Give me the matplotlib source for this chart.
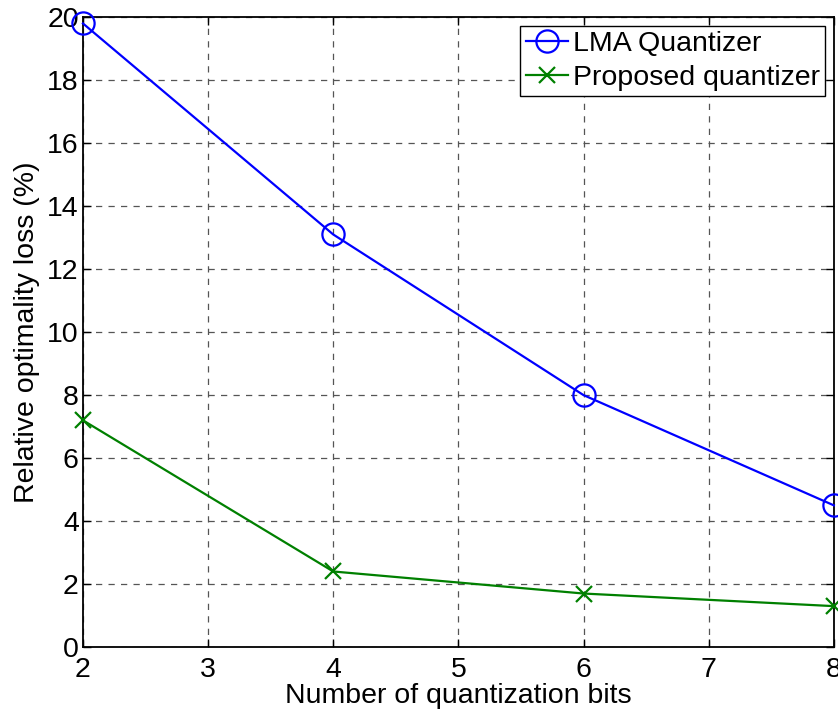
import matplotlib
matplotlib.use("Agg")
import matplotlib.pyplot as plt

bits = [2, 4, 6, 8]
lma_loss = [19.8, 13.1, 8.0, 4.5]
proposed_loss = [7.2, 2.4, 1.7, 1.3]

plt.rcParams["font.family"] = ["Liberation Sans", "DejaVu Sans"]
FS = 20.5

fig = plt.figure(figsize=(8.38, 7.15), dpi=100)
ax = fig.add_axes([0.099, 0.095, 0.896, 0.881])

ax.plot(bits, lma_loss, color="#0000ff", linewidth=1.6, marker="o", markersize=16,
        markerfacecolor="none", markeredgewidth=1.6, label="LMA Quantizer", clip_on=False, zorder=3)
ax.plot(bits, proposed_loss, color="#008000", linewidth=1.6, marker="x", markersize=11,
        markeredgewidth=1.6, label="Proposed quantizer", clip_on=False, zorder=3)

ax.set_xlim(2, 8)
ax.set_ylim(0, 20)
ax.set_xticks(range(2, 9))
ax.set_yticks(range(0, 21, 2))
ax.tick_params(direction="in", top=True, right=True, labelsize=FS, length=6, width=1)
ax.tick_params(axis="x", pad=7)
ax.tick_params(axis="y", pad=3)
ax.grid(True, color="#555555", linestyle=(0, (5, 5)), linewidth=0.9)
for s in ax.spines.values():
    s.set_linewidth(1.3)

ax.set_xlabel("Number of quantization bits", fontsize=FS, labelpad=0)
ax.set_ylabel("Relative optimality loss (%)", fontsize=FS, labelpad=5)

leg = ax.legend(loc="upper right", fontsize=FS, fancybox=False, framealpha=1,
                edgecolor="black", handlelength=1.5, handletextpad=0.15,
                borderpad=0.2, labelspacing=0.25, borderaxespad=0.3)
leg.get_frame().set_linewidth(1.0)

fig.savefig("out.png", dpi=100)
